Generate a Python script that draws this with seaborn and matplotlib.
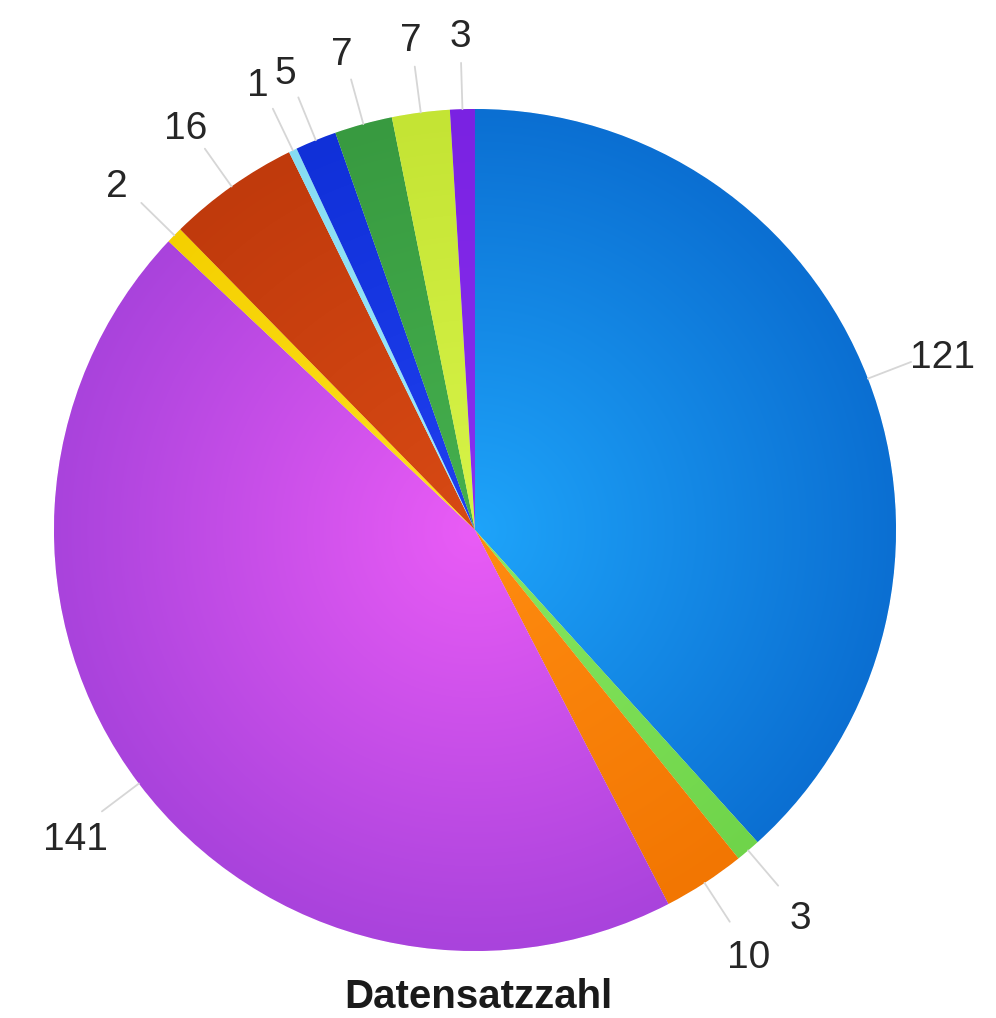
import numpy as np
import matplotlib
matplotlib.use("Agg")
import matplotlib.pyplot as plt
import seaborn as sns
from matplotlib.colors import to_rgb

sns.set_theme(style="white")
plt.rcParams['font.family'] = ['Liberation Sans', 'DejaVu Sans']

# Data (clockwise from 12 o'clock)
values = [121, 3, 10, 141, 2, 16, 1, 5, 7, 7, 3]
labels = [str(v) for v in values]
title = "Datensatzzahl"

# styling: rim colours and brighter centre colours (radial gradient)
colors = ["#0b6fd2", "#6fd44a", "#f27602", "#a943dc", "#f4d000", "#c03a0c",
          "#86dcf2", "#1030d8", "#389a40", "#c4e434", "#7a22e2"]
centers = ["#1ea4fa", "#88e860", "#ff8c10", "#ea5cf6", "#ffe020", "#d84a14",
           "#a0ecff", "#2040f0", "#45b04e", "#d8f448", "#8a30f0"]

W, H = 996, 1018
fig = plt.figure(figsize=(W / 100, H / 100), dpi=100)
ax = fig.add_axes([0, 0, 1, 1])

cx, cy, R = 475, H - 530, 421
palette = sns.color_palette(colors)

wedges, _ = ax.pie(values, colors=palette, startangle=90, counterclock=False,
                   center=(cx, cy), radius=R, frame=True,
                   wedgeprops=dict(edgecolor="white", linewidth=0.5))
ax.set_xlim(0, W)
ax.set_ylim(0, H)
ax.set_aspect("equal")
ax.axis("off")

n = 500
yy, xx = np.mgrid[-1:1:n * 1j, -1:1:n * 1j]
rr = np.clip(np.sqrt(xx ** 2 + yy ** 2), 0, 1)[..., None]
for w, c_edge, c_cen in zip(wedges, colors, centers):
    e = np.array(to_rgb(c_edge))
    c = np.array(to_rgb(c_cen))
    img = c * (1 - rr) + e * rr
    im = ax.imshow(img, extent=(cx - R, cx + R, cy - R, cy + R), zorder=2,
                   interpolation="bilinear")
    im.set_clip_path(w)
ax.set_xlim(0, W)
ax.set_ylim(0, H)

for w, lab in zip(wedges, labels):
    mid = np.deg2rad((w.theta1 + w.theta2) / 2)
    ux, uy = np.cos(mid), np.sin(mid)
    ax.plot([cx + ux * R * 1.0, cx + ux * R * 1.11],
            [cy + uy * R * 1.0, cy + uy * R * 1.11],
            color="#d6d6d6", lw=1.3, zorder=4)
    ax.text(cx + ux * R * 1.19, cy + uy * R * 1.19 - 8, lab, fontsize=28,
            color="#262626", ha="center", va="center", zorder=5)

ax.text(478, H - 997, title, fontsize=29, fontweight="bold", color="#1a1a1a",
        ha="center", va="center")

fig.savefig("out.png", dpi=100)
